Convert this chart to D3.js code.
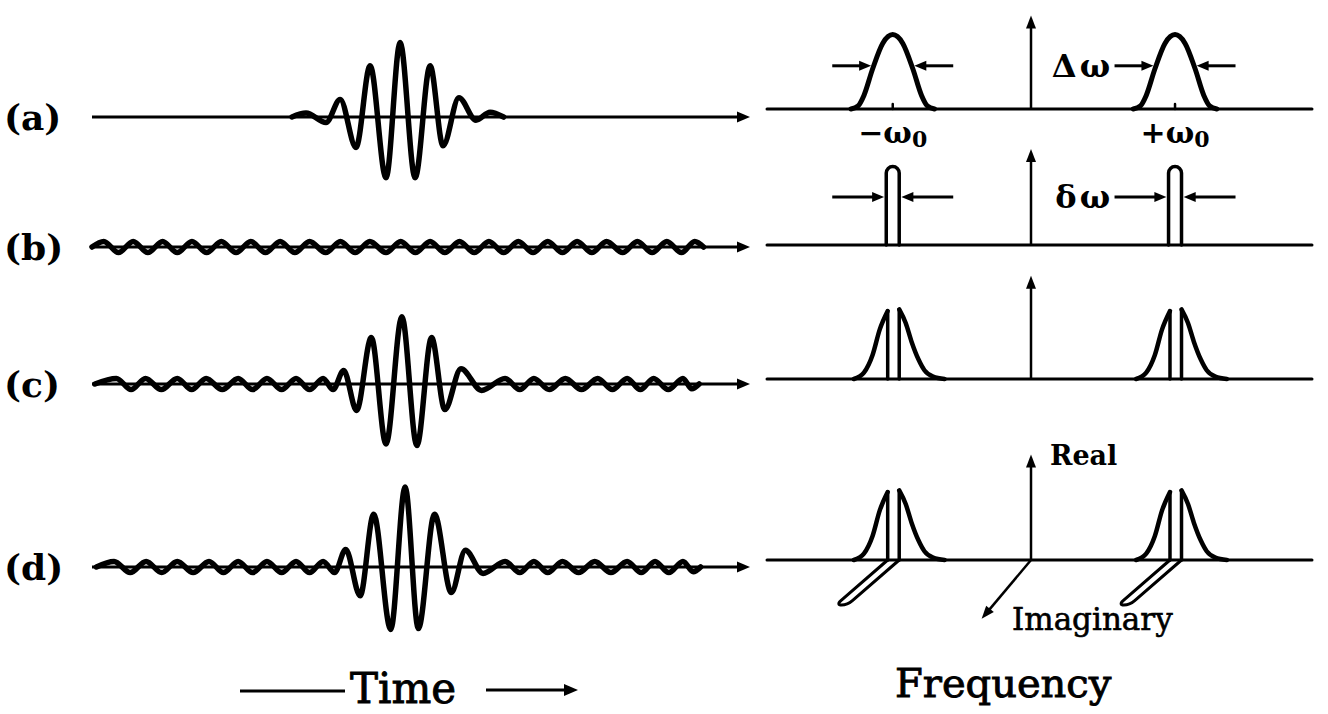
<!DOCTYPE html>
<html>
<head>
<meta charset="utf-8">
<script src="https://cdn.jsdelivr.net/npm/d3@7"></script>
<style>
  html, body { margin: 0; background: #fff; }
  svg { display: block; }
  text { fill: #000; }
</style>
</head>
<body>
<svg id="fig" width="1328" height="714"></svg>
<script>
// ---------------------------------------------------------------
// Data: time-domain signals as [time (carrier periods), amplitude]
// ---------------------------------------------------------------
const rowLabels = ["(a)", "(b)", "(c)", "(d)"];

// (a) isolated wave packet
const signalA = [[6.8,0],[7.28,0.05],[7.96,-0.07],[8.44,0.22],[8.98,-0.38],[9.46,0.64],
  [10.0,-0.76],[10.48,0.93],[10.99,-0.76],[11.5,0.64],[11.94,-0.36],[12.48,0.24],[13.06,-0.04],
  [13.54,0.06],[14.0,0]];

// (b) weak continuous carrier
const signalB = [[0,0],[0.4,0.07],[0.9,-0.07],[1.4,0.07],[1.9,-0.07],[2.4,0.07],[2.9,-0.07],
  [3.4,0.07],[3.9,-0.07],[4.4,0.07],[4.9,-0.07],[5.4,0.07],[5.9,-0.07],[6.4,0.07],[6.9,-0.07],
  [7.4,0.07],[7.95,-0.07],[8.45,0.07],[8.95,-0.07],[9.45,0.07],[10.0,-0.07],[10.5,0.07],
  [11.0,-0.07],[11.5,0.07],[12.0,-0.07],[12.5,0.07],[13.0,-0.07],[13.5,0.07],[14.0,-0.07],
  [14.5,0.07],[15.0,-0.07],[15.5,0.07],[16.0,-0.07],[16.5,0.07],[17.0,-0.07],[17.5,0.07],
  [18.05,-0.07],[18.55,0.07],[19.05,-0.07],[19.55,0.07],[20.05,-0.07],[20.5,0.07],[20.8,0]];

// (c) packet plus carrier
const signalC = [[0.1,0],[0.83,0.07],[1.33,-0.07],[1.82,0.07],[2.36,-0.07],[2.9,0.07],[3.39,-0.07],
  [3.88,0.07],[4.43,-0.07],[4.97,0.07],[5.46,-0.07],[5.95,0.07],[6.45,-0.07],[6.94,0.07],
  [7.4,-0.07],[7.86,0.07],[8.2,-0.07],[8.56,0.17],[9.0,-0.33],[9.5,0.58],[10.0,-0.75],
  [10.54,0.84],[11.05,-0.77],[11.55,0.58],[12.0,-0.32],[12.55,0.19],[13.25,-0.08],[14.05,0.07],
  [14.55,-0.07],[15.03,0.07],[15.55,-0.07],[16.1,0.07],[16.65,-0.07],[17.2,0.07],[17.7,-0.07],
  [18.2,0.07],[18.65,-0.07],[19.1,0.07],[19.6,-0.07],[20.1,0.07],[20.4,-0.06],[20.65,0]];

// (d) packet plus phase-shifted carrier
const signalD = [[0.15,0],[0.75,0.07],[1.3,-0.07],[1.84,0.07],[2.37,-0.07],[2.9,0.07],[3.44,-0.07],
  [3.98,0.07],[4.47,-0.07],[4.97,0.07],[5.46,-0.07],[5.95,0.07],[6.45,-0.07],[6.94,0.07],
  [7.4,-0.07],[7.86,0.07],[8.25,-0.07],[8.63,0.22],[9.12,-0.36],[9.58,0.66],[10.16,-0.78],
  [10.65,1.0],[11.1,-0.77],[11.65,0.66],[12.22,-0.32],[12.7,0.21],[13.3,-0.08],[14.05,0.07],
  [14.55,-0.07],[15.03,0.07],[15.5,-0.07],[16.0,0.07],[16.55,-0.07],[17.1,0.07],[17.65,-0.07],
  [18.2,0.07],[18.68,-0.07],[19.15,0.07],[19.62,-0.07],[20.1,0.07],[20.45,-0.06],[20.7,0]];

const timeSignals = [signalA, signalB, signalC, signalD];
const timeAxisEnd = 22.38;

// ---------------------------------------------------------------
// Data: frequency domain (frequency in units of omega_0)
// ---------------------------------------------------------------
const peakCenters = [-0.96, 1.0];
// broad spectral line of the packet: offset from centre, height
const broadOffsets = [-0.29,-0.24,-0.2,-0.14,-0.07,0,0.07,0.14,0.2,0.24,0.29];
const broadHeights = [0,0.04,0.17,0.5,0.82,0.93,0.82,0.5,0.17,0.04,0];
// narrow spectral line of the carrier
const narrowHalfWidth = 0.045;
const narrowHeight = 0.98;
// combined spectrum: lower and upper flank around the narrow line
const flankLowOffsets = [-0.27,-0.2,-0.14,-0.09,-0.035];
const flankLowHeights = [0,0.08,0.3,0.62,0.85];
const flankHighOffsets = [0.045,0.09,0.13,0.18,0.22,0.28,0.36];
const flankHighHeights = [0.87,0.7,0.47,0.24,0.11,0.03,0];
// imaginary lobe length (along the oblique imaginary axis)
const imagLobeLength = 1.0;
const imagAxisLength = 1.2;
// length of the vertical (real) axis for each row
const realAxisHeights = [1.17, 1.2, 1.29, 1.32];
// width markers
const widthMarkerHeights = [0.54, 0.6];
const widthLabels = ["\u0394\u03c9", "\u03b4\u03c9"];

// ---------------------------------------------------------------
// Layout
// ---------------------------------------------------------------
const svg = d3.select("#fig");
const ink = "#000";
const timeRowY = [117, 247, 384, 567];
const freqRowY = [109, 245, 379, 560];
const ampPx = 80;
const serif = "'DejaVu Serif', 'Liberation Serif', serif";

const tx = d3.scaleLinear().domain([0, timeAxisEnd]).range([92, 750]);
const fx = d3.scaleLinear().domain([-1.833, 1.951]).range([767, 1312]);
const imagLobe = d3.scaleLinear().domain([0, 1]).range([0, 62]);
const imagAxis = d3.scaleLinear().domain([0, 1]).range([0, 64]);
const lobeAngle = 41 * Math.PI / 180;
const axisAngle = 50 * Math.PI / 180;

function arrow(g, x1, y1, x2, y2, o = {}) {
  const len = o.len || 13, w = o.w || 5.5, sw = o.sw || 3;
  const a = Math.atan2(y2 - y1, x2 - x1);
  const c = Math.cos(a), s = Math.sin(a);
  const bx = x2 - len * c, by = y2 - len * s;
  g.append("line")
    .attr("x1", x1).attr("y1", y1).attr("x2", bx + 2 * c).attr("y2", by + 2 * s)
    .attr("stroke", ink).attr("stroke-width", sw);
  g.append("path")
    .attr("d", `M${x2},${y2}L${bx + w * s},${by - w * c}L${bx - w * s},${by + w * c}Z`)
    .attr("fill", ink);
}

// ---------------- time domain ----------------
const gTime = svg.append("g");
rowLabels.forEach((lab, i) => {
  const base = timeRowY[i];
  const ay = d3.scaleLinear().domain([-1, 1]).range([base + ampPx, base - ampPx]);

  gTime.append("text")
    .attr("x", 4).attr("y", base)
    .attr("dominant-baseline", "central")
    .attr("font-family", serif).attr("font-weight", "bold").attr("font-size", 36)
    .text(lab);

  // axis with arrow
  arrow(gTime, tx(0), ay(0), tx(timeAxisEnd), ay(0), { sw: 3 });

  const line = d3.line().x(d => tx(d[0])).y(d => ay(d[1])).curve(d3.curveMonotoneX);
  gTime.append("path")
    .attr("d", line(timeSignals[i]))
    .attr("fill", "none").attr("stroke", ink)
    .attr("stroke-width", 5.5).attr("stroke-linejoin", "round").attr("stroke-linecap", "round");
});

// ---------------- frequency domain ----------------
const gFreq = svg.append("g");
const fAxisX = fx.range();
rowLabels.forEach((lab, i) => {
  const base = freqRowY[i];
  const fy = d3.scaleLinear().domain([0, 1]).range([base, base - ampPx]);
  const stroke = (sel, w) => sel.attr("fill", "none").attr("stroke", ink)
    .attr("stroke-width", w).attr("stroke-linejoin", "round").attr("stroke-linecap", "round");

  // frequency baseline
  stroke(gFreq.append("line")
    .attr("x1", fAxisX[0]).attr("x2", fAxisX[1]).attr("y1", base).attr("y2", base), 3);

  // real axis (vertical arrow at zero frequency)
  arrow(gFreq, fx(0), fy(0), fx(0), fy(realAxisHeights[i]), { sw: 2.5, len: 13, w: 5 });

  const curve = d3.line().x(d => fx(d[0])).y(d => fy(d[1])).curve(d3.curveMonotoneX);

  peakCenters.forEach((c, k) => {
    if (i === 0) {
      const pts = broadOffsets.map((o, j) => [c + o, broadHeights[j]]);
      stroke(gFreq.append("path").attr("d", curve(pts)), 5);
      stroke(gFreq.append("line").attr("x1", fx(c)).attr("x2", fx(c))
        .attr("y1", base).attr("y2", base - 5), 2.5);
    } else if (i === 1) {
      const xl = fx(c - narrowHalfWidth), xr = fx(c + narrowHalfWidth);
      const r = (xr - xl) / 2, top = fy(narrowHeight);
      stroke(gFreq.append("path")
        .attr("d", `M${xl},${base}L${xl},${top + r}A${r},${r} 0 0 1 ${xr},${top + r}L${xr},${base}`), 3.5);
    } else {
      const low = flankLowOffsets.map((o, j) => [c + o, flankLowHeights[j]]);
      const high = flankHighOffsets.map((o, j) => [c + o, flankHighHeights[j]]);
      stroke(gFreq.append("path").attr("d", curve(low)), 4.5);
      stroke(gFreq.append("path").attr("d", curve(high)), 4.5);
      const lastLow = low[low.length - 1], firstHigh = high[0];
      stroke(gFreq.append("line").attr("x1", fx(lastLow[0])).attr("x2", fx(lastLow[0]))
        .attr("y1", base).attr("y2", fy(lastLow[1])), 3.5);
      stroke(gFreq.append("line").attr("x1", fx(firstHigh[0])).attr("x2", fx(firstHigh[0]))
        .attr("y1", base).attr("y2", fy(firstHigh[1])), 3.5);

      if (i === 3) {
        // imaginary part of the narrow line, drawn along the oblique axis
        const cx = Math.cos(lobeAngle), sy = Math.sin(lobeAngle);
        const L = imagLobe(imagLobeLength), ext = 9;
        const xl = fx(lastLow[0]), xr = fx(firstHigh[0]);
        const p = (x, d) => [x - d * cx, base + d * sy];
        const [a1x, a1y] = p(xl, L), [b1x, b1y] = p(xr, L);
        const [c1x, c1y] = p(xl, L + ext), [c2x, c2y] = p(xr, L + ext);
        stroke(gFreq.append("path")
          .attr("d", `M${xl},${base}L${a1x},${a1y}C${c1x},${c1y} ${c2x},${c2y} ${b1x},${b1y}L${xr},${base}`), 3);
      }
    }
  });

  // width markers with labels
  if (i < 2) {
    const hy = fy(widthMarkerHeights[i]);
    const inner = i === 0 ? 0.15 : narrowHalfWidth + 0.015;
    peakCenters.forEach((c, k) => {
      arrow(gFreq, fx(c - 0.42), hy, fx(c - inner), hy, { sw: 3, len: 12, w: 5 });
      arrow(gFreq, fx(c + 0.42), hy, fx(c + inner), hy, { sw: 3, len: 12, w: 5 });
      if (k === 1) {
        gFreq.append("text")
          .attr("x", fx(c - 0.43)).attr("y", hy)
          .attr("text-anchor", "end").attr("dominant-baseline", "central")
          .attr("font-family", serif).attr("font-weight", "bold").attr("font-size", 32)
          .attr("letter-spacing", 3)
          .text(widthLabels[i]);
      }
    });
  }

  // carrier frequency labels
  if (i === 0) {
    ["\u2212", "+"].forEach((sign, k) => {
      const t = gFreq.append("text")
        .attr("x", fx(peakCenters[k])).attr("y", base + 34)
        .attr("text-anchor", "middle")
        .attr("font-family", serif).attr("font-weight", "bold").attr("font-size", 30);
      t.append("tspan").text(sign + "\u03c9");
      t.append("tspan").attr("font-size", 22).attr("dy", 4).text("0");
    });
  }

  if (i === 3) {
    const c = Math.cos(axisAngle), s = Math.sin(axisAngle);
    const L = imagAxis(imagAxisLength);
    arrow(gFreq, fx(0), base, fx(0) - L * c, base + L * s, { sw: 2.5, len: 13, w: 5 });
    gFreq.append("text")
      .attr("x", fx(0) + 19).attr("y", fy(realAxisHeights[i]) + 11)
      .attr("font-family", serif).attr("font-weight", "bold").attr("font-size", 27)
      .text("Real");
    gFreq.append("text")
      .attr("x", fx(0) - 19).attr("y", base + 70)
      .attr("font-family", serif).attr("font-size", 31)
      .attr("stroke", ink).attr("stroke-width", 0.6)
      .text("Imaginary");
  }
});

// ---------------- domain titles ----------------
const gTitle = svg.append("g");
gTitle.append("line").attr("x1", 240).attr("x2", 345).attr("y1", 691).attr("y2", 691)
  .attr("stroke", ink).attr("stroke-width", 3);
gTitle.append("text").attr("x", 350).attr("y", 703)
  .attr("font-family", serif).attr("font-size", 42)
  .attr("stroke", ink).attr("stroke-width", 0.9)
  .text("Time");
arrow(gTitle, 486, 690, 578, 690, { sw: 3, len: 14, w: 6 });
gTitle.append("text").attr("x", 895).attr("y", 697)
  .attr("font-family", serif).attr("font-size", 40)
  .attr("stroke", ink).attr("stroke-width", 0.9)
  .text("Frequency");
</script>
</body>
</html>
